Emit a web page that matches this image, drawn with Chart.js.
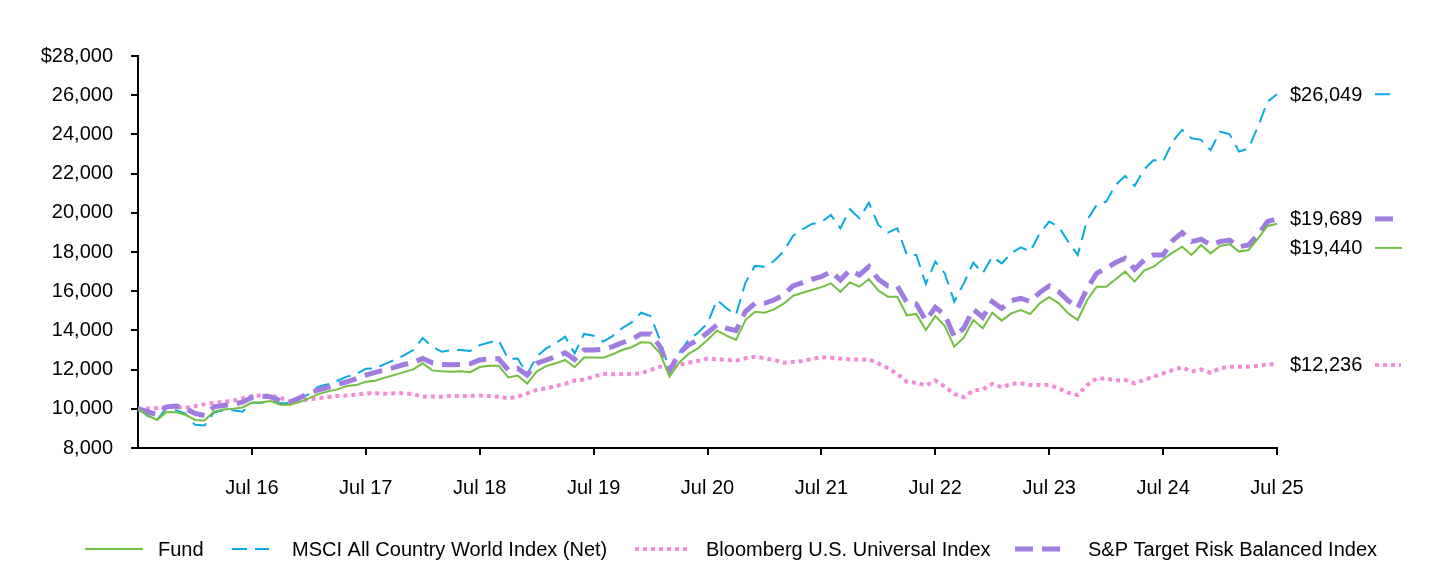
<!DOCTYPE html>
<html>
<head>
<meta charset="utf-8">
<script src="https://cdn.jsdelivr.net/npm/chart.js@4.4.1/dist/chart.umd.min.js"></script>
<style>
  html, body { margin: 0; padding: 0; background: #fff; }
  #wrap { width: 1440px; height: 564px; position: relative; }
</style>
</head>
<body>
<div id="wrap"><canvas id="c"></canvas></div>
<script>
// ---- categories (monthly, Jul 2015 .. Jul 2025) ----
const MONTH_NAMES = ['Jan','Feb','Mar','Apr','May','Jun','Jul','Aug','Sep','Oct','Nov','Dec'];
const categories = [];
for (let k = 0; k <= 120; k++) {
  const m = (6 + k) % 12;
  const yr = 15 + Math.floor((6 + k) / 12);
  categories.push(MONTH_NAMES[m] + ' ' + yr);
}
const tickLabels = ['Jul 16','Jul 17','Jul 18','Jul 19','Jul 20','Jul 21','Jul 22','Jul 23','Jul 24','Jul 25'];
const yTicks = [8000,10000,12000,14000,16000,18000,20000,22000,24000,26000,28000];

const seriesNames = ['Fund','MSCI All Country World Index (Net)','Bloomberg U.S. Universal Index','S&P Target Risk Balanced Index'];

const fund = [10000,9680,9430,9830,9820,9700,9430,9400,9850,9970,10000,10070,10320,10340,10400,10210,10210,10340,10530,10750,10890,10990,11160,11210,11380,11430,11590,11720,11870,12010,12320,11960,11910,11890,11910,11870,12130,12200,12200,11600,11700,11290,11900,12180,12320,12490,12120,12620,12620,12610,12780,13000,13140,13390,13370,12830,11640,12350,12800,13090,13510,13990,13730,13510,14530,14950,14900,15070,15350,15760,15920,16060,16210,16400,15960,16450,16230,16620,16030,15720,15720,14770,14840,14020,14730,14220,13170,13630,14530,14110,14900,14500,14870,15040,14840,15380,15690,15380,14870,14530,15550,16230,16230,16610,17000,16490,17050,17250,17630,17970,18270,17850,18360,17930,18310,18410,18020,18100,18700,19330,19440];

const msci = [10000,9640,9430,10030,9930,9760,9180,9150,9810,9930,9920,9850,10310,10310,10400,10280,10280,10530,10750,11130,11250,11430,11640,11770,12040,12060,12280,12490,12720,13000,13610,13170,12910,13000,13000,12950,13250,13380,13490,12540,12570,11770,12660,13080,13340,13680,12830,13820,13730,13430,13710,14110,14410,14900,14730,13510,11950,12830,13510,13880,14360,15550,15130,14790,16440,17290,17250,17540,18020,18820,19160,19430,19530,19890,19210,20180,19720,20520,19380,18990,19210,17850,17850,16370,17510,16910,15470,16400,17460,16910,17760,17420,17930,18240,18020,18950,19550,19290,18530,17850,19630,20400,20570,21420,21880,21370,22220,22690,22610,23630,24230,23800,23720,23200,24140,24020,23120,23290,24400,25670,26049];

const bloomberg = [10000,10010,10030,10090,10100,10050,10130,10240,10310,10360,10410,10530,10650,10680,10660,10560,10360,10410,10480,10550,10600,10650,10680,10720,10790,10790,10770,10790,10790,10750,10620,10630,10620,10650,10650,10660,10680,10650,10620,10530,10620,10790,10960,11040,11160,11270,11440,11500,11640,11790,11760,11780,11780,11810,11980,12150,12010,12240,12350,12440,12560,12520,12490,12460,12580,12660,12580,12490,12350,12390,12440,12540,12630,12610,12560,12520,12520,12520,12320,12070,11780,11380,11330,11190,11440,11130,10760,10590,10930,10990,11270,11100,11270,11300,11210,11210,11210,11040,10820,10700,11210,11550,11550,11440,11470,11300,11470,11640,11810,11980,12120,11900,12010,11840,12070,12150,12150,12150,12180,12290,12236];

const sp = [10000,9850,9700,10100,10140,10030,9760,9660,10100,10170,10220,10340,10580,10650,10610,10410,10340,10550,10790,10960,11090,11250,11380,11540,11720,11860,11980,12110,12260,12350,12570,12350,12260,12250,12260,12300,12490,12550,12550,11980,12060,11720,12320,12490,12660,12860,12520,13000,13000,13030,13170,13370,13540,13820,13820,13170,11950,12830,13260,13510,13880,14280,14110,13990,14960,15380,15380,15550,15810,16270,16440,16610,16740,17000,16570,17080,16830,17250,16610,16270,16270,15420,15350,14500,15180,14790,13680,14110,15080,14670,15470,15130,15520,15640,15470,15930,16270,15980,15520,15130,16150,16910,17170,17460,17680,17120,17590,17850,17850,18580,18990,18530,18650,18360,18530,18610,18270,18360,18870,19550,19689];

// ---- styles ----
const FONT = '"Liberation Sans", Arial, sans-serif';
const FS = 20;
const styles = [
  { color: '#72BF44', width: 2,   dash: [] },
  { color: '#0AAAE0', width: 2,   dash: [15, 8] },
  { color: '#F38BD8', width: 4,   dash: [4, 4] },
  { color: '#A07CE0', width: 5,   dash: [18, 9] }
];
const allSeries = [fund, msci, bloomberg, sp];

const endLabelPlugin = {
  id: 'endLabels',
  afterDatasetsDraw(chart) {
    const ctx = chart.ctx;
    const ys = chart.scales.y;
    const items = allSeries.map((s, i) => ({ i, v: s[s.length - 1], y: ys.getPixelForValue(s[s.length - 1]) }));
    items.sort((a, b) => a.y - b.y);
    for (let k = 1; k < items.length; k++) {
      if (items[k].y - items[k - 1].y < 29) items[k].y = items[k - 1].y + 29;
    }
    ctx.save();
    ctx.font = FS + 'px ' + FONT;
    ctx.fillStyle = '#000';
    ctx.textBaseline = 'middle';
    ctx.textAlign = 'left';
    const x0 = chart.chartArea.right + 13;
    items.forEach(it => {
      ctx.fillText('$' + it.v.toLocaleString('en-US'), x0, it.y + 1);
      const st = styles[it.i];
      ctx.beginPath();
      ctx.strokeStyle = st.color;
      ctx.lineWidth = st.width;
      ctx.setLineDash(st.dash);
      const len = it.i === 0 ? 27 : (it.i === 2 ? 26 : 18);
      ctx.moveTo(x0 + 85, it.y);
      ctx.lineTo(x0 + 85 + len, it.y);
      ctx.stroke();
    });
    ctx.restore();
  }
};

const legendPlugin = {
  id: 'customLegend',
  afterDraw(chart) {
    const ctx = chart.ctx;
    const y = 549;
    const items = [
      { sx: 85, ex: 143, tx: 158 },
      { sx: 232, ex: 269, tx: 292 },
      { sx: 635, ex: 691, tx: 706 },
      { sx: 1015, ex: 1061, tx: 1088 }
    ];
    ctx.save();
    ctx.font = FS + 'px ' + FONT;
    ctx.textBaseline = 'middle';
    ctx.textAlign = 'left';
    items.forEach((it, i) => {
      const st = styles[i];
      ctx.beginPath();
      ctx.strokeStyle = st.color;
      ctx.lineWidth = st.width;
      ctx.setLineDash(st.dash);
      ctx.moveTo(it.sx, y);
      ctx.lineTo(it.ex, y);
      ctx.stroke();
      ctx.fillStyle = '#000';
      ctx.fillText(seriesNames[i], it.tx, y + 1);
    });
    ctx.restore();
  }
};

const datasets = allSeries.map((s, i) => ({
  label: seriesNames[i],
  data: s,
  borderColor: styles[i].color,
  backgroundColor: styles[i].color,
  borderWidth: styles[i].width,
  borderDash: styles[i].dash,
  borderCapStyle: 'butt',
  borderJoinStyle: 'miter',
  pointRadius: 0,
  tension: 0,
  fill: false,
  order: [0, 2, 3, 1][i]
}));

new Chart(document.getElementById('c'), {
  type: 'line',
  data: { labels: categories, datasets },
  options: {
    responsive: true,
    maintainAspectRatio: false,
    animation: false,
    layout: { padding: { left: 0, right: 163, top: 56, bottom: 56 } },
    plugins: { legend: { display: false }, tooltip: { enabled: false } },
    scales: {
      x: {
        type: 'category',
        offset: false,
        afterBuildTicks(scale) {
          scale.ticks = scale.ticks.filter(t => tickLabels.includes(categories[t.value]));
        },
        afterFit(scale) { scale.height = 60; },
        grid: { display: true, drawOnChartArea: false, drawTicks: true, tickLength: 7, color: '#000', lineWidth: 2 },
        border: { display: true, color: '#000', width: 2 },
        ticks: {
          autoSkip: false, maxRotation: 0, minRotation: 0, padding: 21,
          color: '#000', font: { family: FONT, size: FS },
          callback(v) { return categories[v]; }
        }
      },
      y: {
        min: 8000, max: 28000,
        afterBuildTicks(scale) { scale.ticks = yTicks.map(v => ({ value: v })); },
        afterFit(scale) { scale.width = 138; },
        grid: { display: true, drawOnChartArea: false, drawTicks: true, tickLength: 7, color: '#000', lineWidth: 2 },
        border: { display: true, color: '#000', width: 2 },
        ticks: {
          padding: 18, color: '#000', font: { family: FONT, size: FS },
          callback(v) { return (v === 28000 ? '$' : '') + v.toLocaleString('en-US'); }
        }
      }
    }
  },
  plugins: [endLabelPlugin, legendPlugin]
});
</script>
</body>
</html>
